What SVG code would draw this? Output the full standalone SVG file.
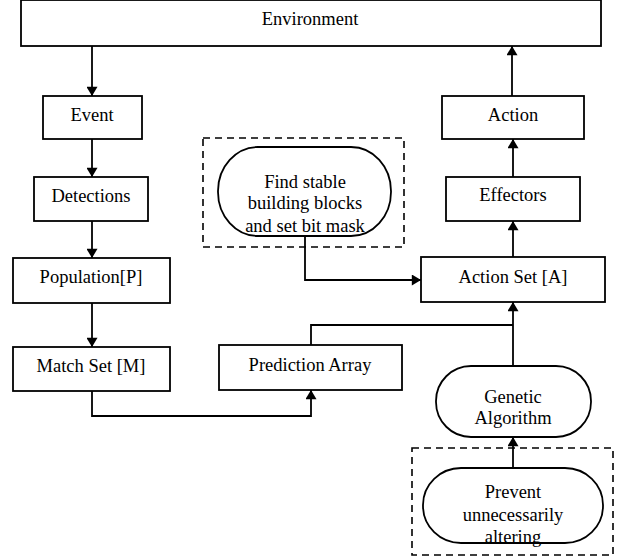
<svg xmlns="http://www.w3.org/2000/svg" width="619" height="560" viewBox="0 0 619 560">
  <style>
    .box { fill: #ffffff; stroke: #000000; stroke-width: 1.8; }
    .group { fill: none; stroke: #000000; stroke-width: 1.6; stroke-dasharray: 7 5; }
    .lbl { font-size: 18.5px; fill: #000000; text-anchor: middle; }
    .wire { fill: none; stroke: #000000; stroke-width: 1.8; }
  </style>
  <defs>
    <marker id="arrow" viewBox="0 0 10 12" refX="10" refY="6" markerWidth="11" markerHeight="11" markerUnits="userSpaceOnUse" orient="auto">
      <path d="M0,0 L10,6 L0,12 Z" fill="#000000"/>
    </marker>
  </defs>
  <rect width="619" height="560" fill="#ffffff"/>

  <!-- dashed groupings -->
  <rect class="group" x="203" y="138" width="201" height="109"/>
  <rect class="group" x="412" y="448" width="201" height="107"/>

  <g font-family="Liberation Serif, serif">
  <g id="environment">
    <rect class="box" x="21" y="0" width="580" height="46"/>
    <text class="lbl" x="310" y="25">Environment</text>
  </g>
  <g id="event">
    <rect class="box" x="43" y="96" width="99" height="43"/>
    <text class="lbl" x="92" y="121">Event</text>
  </g>
  <g id="detections">
    <rect class="box" x="34" y="177" width="114" height="44"/>
    <text class="lbl" x="91" y="202">Detections</text>
  </g>
  <g id="population">
    <rect class="box" x="13" y="258" width="157" height="45"/>
    <text class="lbl" x="91" y="283">Population[P]</text>
  </g>
  <g id="match-set">
    <rect class="box" x="13" y="347" width="157" height="44"/>
    <text class="lbl" x="91" y="372">Match Set [M]</text>
  </g>
  <g id="prediction-array">
    <rect class="box" x="219" y="345" width="183" height="45"/>
    <text class="lbl" x="310" y="371">Prediction Array</text>
  </g>
  <g id="action">
    <rect class="box" x="442" y="96" width="142" height="43"/>
    <text class="lbl" x="513" y="121">Action</text>
  </g>
  <g id="effectors">
    <rect class="box" x="446" y="177" width="134" height="44"/>
    <text class="lbl" x="513" y="201">Effectors</text>
  </g>
  <g id="action-set">
    <rect class="box" x="421" y="257" width="184" height="45"/>
    <text class="lbl" x="513" y="283">Action Set [A]</text>
  </g>
  <g id="find-stable">
    <rect class="box" x="218" y="147" width="173" height="89" rx="40" ry="44"/>
    <text class="lbl" x="305" y="188">Find stable</text>
    <text class="lbl" x="305" y="209">building blocks</text>
    <text class="lbl" x="305" y="232">and set bit mask</text>
  </g>
  <g id="genetic-algorithm">
    <rect class="box" x="436" y="366" width="155" height="71" rx="35" ry="35"/>
    <text class="lbl" x="513" y="403">Genetic</text>
    <text class="lbl" x="513" y="424">Algorithm</text>
  </g>
  <g id="prevent">
    <rect class="box" x="423" y="468" width="180" height="75" rx="38" ry="37"/>
    <text class="lbl" x="513" y="498">Prevent</text>
    <text class="lbl" x="513" y="521">unnecessarily</text>
    <text class="lbl" x="513" y="543">altering</text>
  </g>
  </g>

  <g id="connectors">
    <path class="wire" d="M92,46 V96" marker-end="url(#arrow)"/>
    <path class="wire" d="M92,139 V177" marker-end="url(#arrow)"/>
    <path class="wire" d="M92,221 V258" marker-end="url(#arrow)"/>
    <path class="wire" d="M92,303 V347" marker-end="url(#arrow)"/>
    <path class="wire" d="M92,391 V416 H311 V390" marker-end="url(#arrow)"/>
    <path class="wire" d="M311,345 V325 H513"/>
    <path class="wire" d="M513,366 V302" marker-end="url(#arrow)"/>
    <path class="wire" d="M513,468 V437" marker-end="url(#arrow)"/>
    <path class="wire" d="M305,236 V280 H421" marker-end="url(#arrow)"/>
    <path class="wire" d="M513,257 V221" marker-end="url(#arrow)"/>
    <path class="wire" d="M513,177 V139" marker-end="url(#arrow)"/>
    <path class="wire" d="M512,96 V46" marker-end="url(#arrow)"/>
  </g>
</svg>
